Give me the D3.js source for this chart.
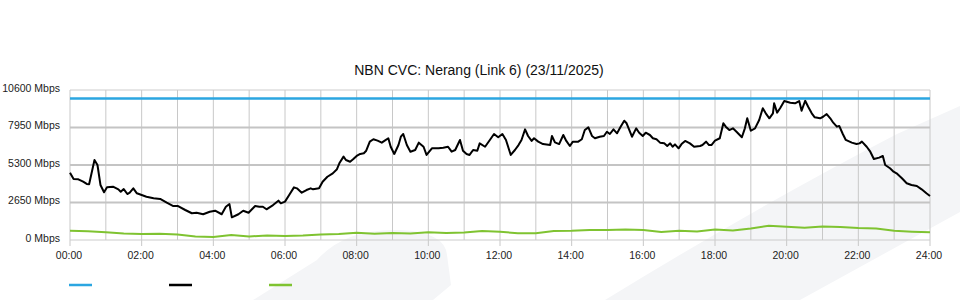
<!DOCTYPE html>
<html>
<head>
<meta charset="utf-8">
<script src="https://cdn.jsdelivr.net/npm/d3@7"></script>
<style>
  body { margin: 0; background: #fff; }
  svg { display: block; font-family: "Liberation Sans", Arial, sans-serif; }
</style>
</head>
<body>
<svg id="chart" width="960" height="300"></svg>
<script>
const title = "NBN CVC: Nerang (Link 6) (23/11/2025)";

// y ticks (Mbps) and x ticks (hours)
const yTicks = [0, 2650, 5300, 7950, 10600];
const xTickHours = [0, 2, 4, 6, 8, 10, 12, 14, 16, 18, 20, 22, 24];
const xGridHours = [0, 1, 2, 3, 4, 5, 6, 7, 8, 9, 10, 11, 12, 13, 14, 15, 16, 17, 18, 19, 20, 21, 22, 23, 24];

// capacity (blue)
const capacityMinutes = [0, 1440];
const capacityMbps = [10000, 10000];

// traffic (black), minutes since midnight
const trafficMinutes = [0,6,14,22,28,32,41,46,51,57,62,72,81,85,90,96,100,106,112,120,
  128,140,151,162,173,181,193,204,212,223,234,243,254,261,267,271,282,290,299,310,
  317,323,329,340,349,353,360,367,375,380,388,396,403,407,417,423,431,440,447,451,
  458,462,469,474,480,486,492,496,502,508,515,522,527,533,537,543,550,554,558,564,
  570,578,584,592,597,606,611,617,625,633,639,645,653,658,664,669,675,682,686,695,
  703,710,717,724,730,738,745,751,756,762,767,773,777,784,792,804,807,812,819,826,
  831,837,842,851,857,862,868,874,879,887,894,899,904,910,916,922,928,932,941,948,
  953,959,964,971,976,982,988,995,1000,1005,1009,1013,1019,1024,1030,1038,1045,1055,1059,1065,
  1070,1074,1080,1088,1094,1098,1104,1110,1116,1125,1130,1134,1140,1147,1154,1160,1165,1171,1177,1179,
  1184,1189,1196,1206,1214,1221,1225,1231,1236,1242,1247,1256,1261,1267,1273,1278,1284,1288,1294,1299,
  1309,1317,1322,1326,1334,1340,1346,1355,1361,1365,1373,1379,1384,1393,1401,1409,1418,1426,1434,1440];
const trafficMbps = [4760,4310,4290,4120,3960,3940,5650,5300,3890,3370,3720,3770,3580,3410,3600,3250,3340,3650,3300,3180,
  3060,2950,2900,2640,2400,2400,2120,1890,1930,1820,2000,2070,1820,2350,2540,1600,1820,2070,1930,2400,
  2350,2350,2170,2470,2780,2590,2710,3180,3720,3650,3340,3530,3650,3580,3650,4120,4470,4710,5000,5420,
  5890,5650,5530,5700,5940,6080,6130,6310,6950,7120,7020,6880,7020,7190,6590,6080,6710,7300,7490,6710,
  6240,6360,6880,6590,6010,6480,6480,6480,6520,6590,6240,6360,7070,6310,6080,6010,6360,6310,6830,6590,
  7070,7490,7260,7490,7070,6010,6360,6710,7070,7820,7350,7000,7190,6950,6780,6710,7350,6900,6780,7420,
  7000,6640,6950,6950,7120,7770,7960,7350,7190,7300,7350,7650,7490,7820,7540,8010,8430,8250,7300,7890,
  7580,7350,7580,7420,7190,7120,6880,6830,6640,6830,6590,6760,6480,6780,7000,6830,6590,6640,6710,6950,
  6710,6710,7020,7190,8250,8010,7770,7890,7650,7260,7890,8600,7720,7890,8480,9310,8950,8600,8950,9660,
  9000,9310,9820,9700,9660,9820,9140,9840,9420,8950,8670,8600,8710,8900,8600,8290,8010,8060,7490,7070,
  6880,6780,6830,6950,6590,6240,5720,5820,5940,5300,5070,4830,4710,4360,4010,3890,3820,3580,3300,3110];

// green series, every 30 minutes
const greenMinutes = [0,30,60,90,120,150,180,210,240,270,300,330,360,390,420,450,480,510,540,570,
  600,630,660,690,720,750,780,810,840,870,900,930,960,990,1020,1050,1080,1110,1140,1170,
  1200,1230,1260,1290,1320,1350,1380,1410,1440];
const greenMbps = [660,610,540,460,420,440,390,250,210,350,250,320,280,320,390,420,520,440,490,460,
  540,490,530,640,590,470,470,640,660,710,710,740,710,570,660,600,740,670,810,1010,
  940,860,950,920,850,810,650,590,540];

const colors = { capacity: "#2ba6e1", traffic: "#000000", green: "#7fc331" };

const svg = d3.select("#chart");
const margin = { left: 70, right: 30, top: 90, bottom: 60 };
const width = 960, height = 300;

const x = d3.scaleLinear().domain([0, 1440]).range([margin.left, width - margin.right]);
const y = d3.scaleLinear().domain([0, 10600]).range([height - margin.bottom, margin.top]);

// faint watermark in the background
const wm = svg.append("g").attr("fill", "#f4f5f7");
wm.append("path").attr("d", "M253,300 L317,260 Q345,228 400,230 Q445,232 447,255 L451,285 L433,300 Z");
wm.append("path").attr("d", "M605,300 Q760,205 897,134 L960,106 L960,212 L800,300 Z");

// title
svg.append("text")
    .attr("x", 479)
    .attr("y", 75)
    .attr("text-anchor", "middle")
    .attr("font-size", 14)
    .attr("fill", "#111")
    .text(title);

// vertical grid
svg.append("g")
    .selectAll("line")
    .data(xGridHours)
    .join("line")
    .attr("x1", d => x(d * 60))
    .attr("x2", d => x(d * 60))
    .attr("y1", y(10600))
    .attr("y2", d => d % 2 === 0 ? y(0) + 6 : y(0))
    .attr("stroke", "#c8c8c8")
    .attr("stroke-width", 1);

// horizontal grid
svg.append("g")
    .selectAll("line")
    .data(yTicks)
    .join("line")
    .attr("x1", x(0))
    .attr("x2", x(1440))
    .attr("y1", d => y(d))
    .attr("y2", d => y(d))
    .attr("stroke", d => (d === 0 || d === 10600) ? "#cccccc" : "#c4c4c4")
    .attr("stroke-width", d => (d === 0 || d === 10600) ? 1 : 2);

// y labels
svg.append("g")
    .selectAll("text")
    .data(yTicks)
    .join("text")
    .attr("x", 60)
    .attr("y", d => y(d) + 1.5)
    .attr("text-anchor", "end")
    .attr("font-size", 10.5)
    .attr("fill", "#222")
    .text(d => d + " Mbps");

// x labels
svg.append("g")
    .selectAll("text")
    .data(xTickHours)
    .join("text")
    .attr("x", d => x(d * 60) - 1)
    .attr("y", 259)
    .attr("text-anchor", "middle")
    .attr("font-size", 10.5)
    .attr("fill", "#222")
    .text(d => String(d).padStart(2, "0") + ":00");

const line = d3.line()
    .x(d => x(d[0]))
    .y(d => y(d[1]));

svg.append("path")
    .datum(greenMinutes.map((m, i) => [m, greenMbps[i]]))
    .attr("fill", "none")
    .attr("stroke", colors.green)
    .attr("stroke-width", 2)
    .attr("d", line);

svg.append("path")
    .datum(trafficMinutes.map((m, i) => [m, trafficMbps[i]]))
    .attr("fill", "none")
    .attr("stroke", colors.traffic)
    .attr("stroke-width", 2)
    .attr("stroke-linejoin", "round")
    .attr("d", line);

svg.append("path")
    .datum(capacityMinutes.map((m, i) => [m, capacityMbps[i]]))
    .attr("fill", "none")
    .attr("stroke", colors.capacity)
    .attr("stroke-width", 2.5)
    .attr("d", line);

// legend swatches (no labels shown)
const legendColors = [colors.capacity, colors.traffic, colors.green];
svg.append("g")
    .selectAll("line")
    .data(legendColors)
    .join("line")
    .attr("x1", (d, i) => 69 + i * 100)
    .attr("x2", (d, i) => 92 + i * 100)
    .attr("y1", 285)
    .attr("y2", 285)
    .attr("stroke", d => d)
    .attr("stroke-width", 2.5);
</script>
</body>
</html>
